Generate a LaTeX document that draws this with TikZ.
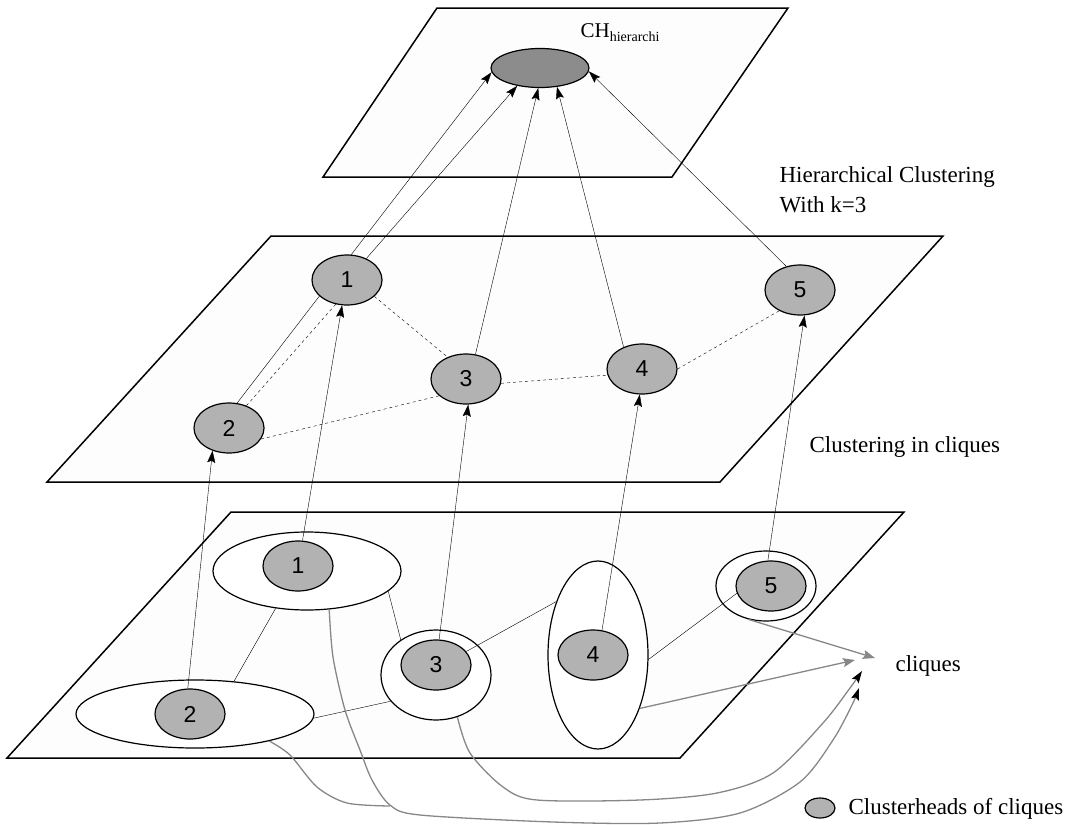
\documentclass[tikz,border=0pt]{standalone}
\usepackage{fontspec}
\setmainfont{Liberation Serif}
\newfontfamily\numfont{Liberation Sans}
\usetikzlibrary{arrows.meta,shapes.geometric}
\definecolor{headgray}{RGB}{178,178,178}
\definecolor{chgray}{RGB}{140,140,140}
\definecolor{wiregray}{RGB}{135,135,135}
\definecolor{planefill}{RGB}{253,253,253}
\pgfdeclarelayer{back}
\pgfdeclarelayer{mid}
\pgfsetlayers{back,mid,main}

\begin{document}
\begin{tikzpicture}[x=1pt,y=-1pt,>={Stealth[length=12pt,width=8pt,inset=2pt]},line width=1.2pt,
	chead/.style={ellipse,draw,fill=headgray,inner sep=0pt,minimum width=70pt,minimum height=50pt,
		font=\numfont\fontsize{23}{23}\selectfont},
	clq/.style={ellipse,draw,fill=white,inner sep=0pt},
	sheet/.style={draw,fill=planefill,line width=1.5pt},
	txt/.style={font=\fontsize{23}{30}\selectfont,inner sep=0pt},
	wire/.style={draw=wiregray,line width=1.3pt}]
	
	\useasboundingbox (0,0) rectangle (1080,825);
	
	% bottom layer: cliques and their clusterheads
	\node[clq,minimum width=188pt,minimum height=78pt] (c1) at (307,571) {};
	\node[clq,minimum width=238pt,minimum height=68pt] (c2) at (195,714) {};
	\node[clq,minimum width=110pt,minimum height=90pt] (c3) at (436,675) {};
	\node[clq,minimum width=100pt,minimum height=188pt] (c4) at (598,655) {};
	\node[clq,minimum width=100pt,minimum height=70pt] (c5) at (766,586) {};
	\node[chead] (h1) at (298,566) {1};
	\node[chead] (h2) at (190,714) {2};
	\node[chead] (h3) at (436,665) {3};
	\node[chead] (h4) at (593,655) {4};
	\node[chead] (h5) at (771,586) {5};
	
	% middle layer
	\node[chead] (m1) at (347,280) {1};
	\node[chead] (m2) at (229,428) {2};
	\node[chead] (m3) at (466,379) {3};
	\node[chead] (m4) at (642,369) {4};
	\node[chead] (m5) at (800,290) {5};
	
	% top layer
	\node[ellipse,draw,fill=chgray,inner sep=0pt,minimum width=98pt,minimum height=39pt] (ch) at (540,68) {};
	
	\node[txt,anchor=base west] (chlbl) at (580,37)
		{\fontsize{21}{21}\selectfont CH\raisebox{-4pt}{\fontsize{14}{14}\selectfont hierarchi}};
	\node[txt,anchor=north west,align=left] (hier) at (779,166) {Hierarchical Clustering\\With k=3};
	\node[txt,anchor=base west] (incl) at (809,452) {Clustering in cliques};
	\node[txt,anchor=base west] (cqtxt) at (895,671) {cliques};
	\node[chead,minimum width=30pt,minimum height=20pt] (lgd) at (820,808) {};
	\node[txt,anchor=base west] (lgdtxt) at (848,814) {Clusterheads of cliques};
	
	\coordinate (cq1) at (875,658);
	\coordinate (cq2) at (855,660);
	\coordinate (cq3) at (862,671);
	\coordinate (cq4) at (859,688);
	
	\begin{pgfonlayer}{back}
		\draw[sheet] (437,8) -- (788,8) -- (672,177) -- (323,177) -- cycle;
		\draw[sheet] (271,236) -- (943,236) -- (720,482) -- (47,482) -- cycle;
		\draw[sheet] (231,512) -- (904,512) -- (680,758) -- (7,758) -- cycle;
	\end{pgfonlayer}
	\begin{pgfonlayer}{mid}
		\draw[->] (m2.72) -- (ch.185);
	\end{pgfonlayer}
	
	% links between cliques
	\path (c1.230) edge (c2.40)
	(c1.346) edge (c3.135)
	(c2.358) edge (c3.210)
	(h3.24) edge (c4.128)
	(c4.355) edge (h5.192);
	
	% clusterheads go up
	\path[->] (h2.95) edge (m2.234)
	(h1.80) edge (m1.259)
	(h3.83) edge (m3.275)
	(h4.70) edge (m4.265)
	(h5.97) edge (m5.280);
	
	\path[dashed] (m2.52) edge (m1.245)
	(m1.329) edge (m3.130)
	(m2.341) edge (m3.212)
	(m3.353) edge (m4.190)
	(m4.0) edge (m5.225);
	
	\path[->] (m1.48) edge (ch.218)
	(m3.69) edge (ch.265)
	(m4.130) edge (ch.312)
	(m5.120) edge (ch.356);
	
	% pointers to the cliques label
	\draw[wire,-{Stealth[length=12pt,width=9pt,inset=2pt]}] (c5.241) -- (cq1);
	\draw[wire,-{Stealth[length=12pt,width=9pt,inset=2pt]}] (c4.308) -- (cq2);
	\draw[wire] plot[smooth] coordinates {(c2.340) (290,755) (317,787) (347,803) (390,806)};
	\draw[wire,-{Stealth[length=12pt,width=8pt,inset=2pt,color=black]}] plot[smooth] coordinates
		{(c1.300) (333,657) (345,710) (360,750) (372,780) (390,805) (420,815) (553,822) (660,823) (740,813) (800,782) (833,740) (852,705) (cq4)};
	\draw[wire,-{Stealth[length=12pt,width=8pt,inset=2pt,color=black]}] plot[smooth] coordinates
		{(c3.297) (470,753) (503,787) (537,800) (640,800) (717,793) (773,773) (823,723) (850,688) (cq3)};
\end{tikzpicture}
\end{document}
